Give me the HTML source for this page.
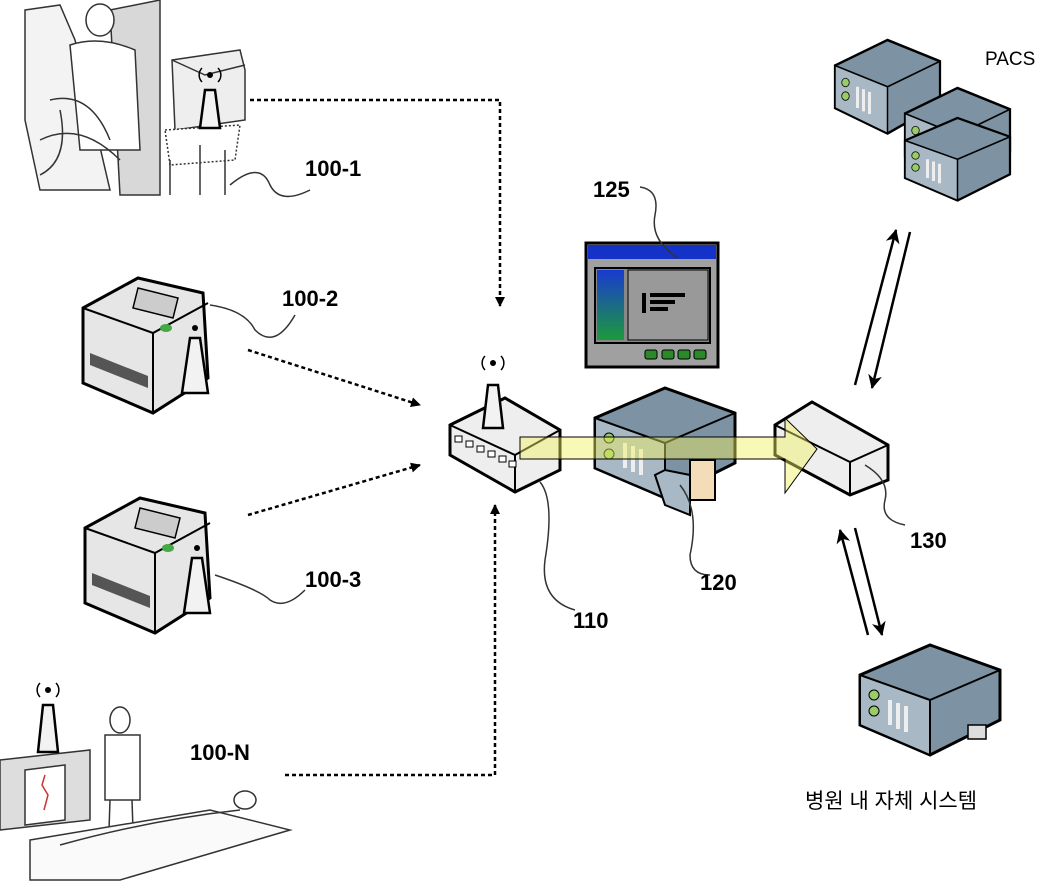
<!DOCTYPE html>
<html><head><meta charset="utf-8"><style>body{margin:0;background:#fff}svg{display:block}</style></head><body>
<svg width="1048" height="896" viewBox="0 0 1048 896" xmlns="http://www.w3.org/2000/svg" font-family="Liberation Sans, sans-serif">
<defs>
<marker id="ah" markerWidth="10" markerHeight="10" refX="9" refY="5" orient="auto" markerUnits="userSpaceOnUse"><path d="M0,0 L10,5 L0,10 Z" fill="#000"/></marker>
<marker id="ah2" markerWidth="14" markerHeight="14" refX="13" refY="7" orient="auto" markerUnits="userSpaceOnUse"><path d="M0,0 L14,7 L0,14 L4,7 Z" fill="#000"/></marker>
<g id="printer">
<path d="M5,40 L60,10 L125,25 L130,110 L75,145 L5,115 Z" fill="#e6e6e6" stroke="#000" stroke-width="3"/>
<path d="M5,40 L75,65 L130,35" fill="none" stroke="#000" stroke-width="2"/>
<path d="M75,65 L75,145" stroke="#000" stroke-width="2"/>
<path d="M12,85 L70,108 L70,120 L12,97 Z" fill="#555"/>
<path d="M60,20 L100,30 L95,50 L55,40 Z" fill="#ccc" stroke="#000" stroke-width="1.5"/>
<ellipse cx="88" cy="60" rx="6" ry="4" fill="#4a4"/>
<path d="M112,70 L122,70 L130,125 L104,125 Z" fill="#f2f2f2" stroke="#000" stroke-width="2.5"/>
<circle cx="117" cy="60" r="3" fill="#000"/>
</g>
<g id="server">
<path d="M0,30 L70,0 L140,25 L140,75 L70,110 L0,80 Z" fill="#7d93a3" stroke="#000" stroke-width="3"/>
<path d="M0,30 L70,55 L70,110 L0,80 Z" fill="#a8b8c4" stroke="#000" stroke-width="2"/>
<path d="M70,55 L140,25" fill="none" stroke="#000" stroke-width="2"/>
<circle cx="14" cy="50" r="5" fill="#9c6" stroke="#000"/><circle cx="14" cy="66" r="5" fill="#9c6" stroke="#000"/>
<path d="M30,55 L30,80 M38,58 L38,84 M46,61 L46,87" stroke="#eee" stroke-width="4"/>
</g>
</defs>

<!-- ECG top-left -->
<g stroke="#333" fill="none" stroke-width="1.5">
<path d="M25,10 L60,5 L75,40 L110,190 L40,190 L25,120 Z" fill="#f3f3f3"/>
<path d="M110,10 L160,0 L160,195 L120,195 Z" fill="#d8d8d8"/>
<ellipse cx="100" cy="20" rx="14" ry="16" fill="#fff"/>
<path d="M70,45 Q100,35 135,50 L140,150 L80,150 Z" fill="#fff"/>
<path d="M40,140 Q80,120 120,160 M50,100 Q90,90 110,140 M60,110 Q70,160 40,175" />
<path d="M172,60 L240,50 L245,70 L245,120 L175,130 Z" fill="#eee"/>
<path d="M172,60 L205,75 L245,65" />
<path d="M165,130 L240,125 L235,160 L170,165 Z" fill="#fff" stroke-dasharray="2 2"/>
<path d="M200,145 L200,195 M225,150 L225,195 M170,160 L170,195"/>
</g>
<path d="M200,128 L205,90 L215,90 L220,128 Z" fill="#f2f2f2" stroke="#000" stroke-width="2.5"/>
<circle cx="210" cy="75" r="3" fill="#000"/>
<path d="M202,68 a10,10 0 0 0 0,14 M218,68 a10,10 0 0 1 0,14" stroke="#000" fill="none" stroke-width="1.5"/>
<path d="M230,185 Q260,160 270,185 Q280,205 310,190" stroke="#333" fill="none" stroke-width="1.5"/>
<text x="305" y="176" font-size="22" font-weight="bold">100-1</text>

<use href="#printer" x="78" y="268"/>
<path d="M210,305 Q245,310 255,330 Q275,350 295,315" stroke="#333" fill="none" stroke-width="1.5"/>
<text x="282" y="306" font-size="22" font-weight="bold">100-2</text>
<use href="#printer" x="80" y="488"/>
<path d="M215,575 Q260,590 270,600 Q285,610 305,590" stroke="#333" fill="none" stroke-width="1.5"/>
<text x="305" y="587" font-size="22" font-weight="bold">100-3</text>

<!-- patient bottom-left -->
<g stroke="#333" fill="none" stroke-width="1.5">
<path d="M0,760 L90,750 L90,820 L0,830 Z" fill="#ddd"/>
<path d="M25,770 L65,765 L65,820 L25,825 Z" fill="#fff"/>
<path d="M45,775 l-3,10 l6,10 l-4,15" stroke="#c33"/>
<ellipse cx="120" cy="720" rx="10" ry="13" fill="#fff"/>
<path d="M105,735 L140,735 L140,800 L105,800 Z" fill="#fff"/>
<path d="M110,800 L108,860 M132,800 L134,860"/>
<path d="M30,840 L210,810 L290,830 L120,880 L30,880 Z" fill="#fafafa"/>
<path d="M60,845 Q150,820 240,810" />
<ellipse cx="245" cy="800" rx="11" ry="9" fill="#fff"/>
</g>
<path d="M38,752 L43,705 L53,705 L58,752 Z" fill="#f2f2f2" stroke="#000" stroke-width="2.5"/>
<circle cx="48" cy="690" r="3" fill="#000"/>
<path d="M40,683 a10,10 0 0 0 0,14 M56,683 a10,10 0 0 1 0,14" stroke="#000" fill="none" stroke-width="1.5"/>
<text x="190" y="760" font-size="22" font-weight="bold">100-N</text>

<!-- dashed arrows -->
<g stroke="#000" stroke-width="2.5" stroke-dasharray="4 3" fill="none">
<path d="M250,100 L500,100 L500,306" marker-end="url(#ah)"/>
<path d="M248,350 L420,405" marker-end="url(#ah)"/>
<path d="M248,515 L420,465" marker-end="url(#ah)"/>
<path d="M285,775 L495,775 L495,505" marker-end="url(#ah)"/>
</g>

<!-- router -->
<path d="M450,425 L505,398 L560,430 L560,470 L515,492 L450,455 Z" fill="#eee" stroke="#000" stroke-width="3"/>
<path d="M450,425 L515,455 L560,430 M515,455 L515,492" fill="none" stroke="#000" stroke-width="2"/>
<g fill="#fff" stroke="#000" stroke-width="1"><rect x="455" y="436" width="7" height="6"/><rect x="466" y="441" width="7" height="6"/><rect x="477" y="446" width="7" height="6"/><rect x="488" y="451" width="7" height="6"/><rect x="499" y="456" width="7" height="6"/><rect x="509" y="461" width="7" height="6"/></g>
<path d="M483,428 L488,385 L498,385 L503,428 Z" fill="#f2f2f2" stroke="#000" stroke-width="2.5"/>
<circle cx="493" cy="363" r="3" fill="#000"/>
<path d="M485,356 a10,10 0 0 0 0,14 M501,356 a10,10 0 0 1 0,14" stroke="#000" fill="none" stroke-width="1.5"/>
<path d="M540,482 Q555,500 545,560 Q540,600 575,610" stroke="#333" fill="none" stroke-width="1.5"/>
<text x="573" y="628" font-size="22" font-weight="bold">110</text>

<!-- monitor 125 -->
<rect x="586" y="243" width="132" height="124" fill="#a0a0a0" stroke="#000" stroke-width="3"/>
<rect x="588" y="245" width="128" height="14" fill="#1432c8"/>
<rect x="595" y="268" width="115" height="75" fill="#888" stroke="#000" stroke-width="2"/>
<defs><linearGradient id="g1" x1="0" y1="0" x2="0" y2="1"><stop offset="0" stop-color="#1a3ad0"/><stop offset="1" stop-color="#1c9a3c"/></linearGradient></defs>
<rect x="597" y="270" width="27" height="70" fill="url(#g1)"/>
<rect x="628" y="270" width="80" height="70" fill="#999" stroke="#000" stroke-width="1"/>
<g fill="#000"><rect x="650" y="293" width="35" height="4"/><rect x="650" y="300" width="25" height="4"/><rect x="650" y="307" width="18" height="4"/><rect x="642" y="293" width="4" height="20"/></g>
<g fill="#2a8a2a" stroke="#000"><rect x="645" y="350" width="12" height="9" rx="2"/><rect x="662" y="350" width="12" height="9" rx="2"/><rect x="678" y="350" width="12" height="9" rx="2"/><rect x="694" y="350" width="12" height="9" rx="2"/></g>
<path d="M678,258 Q650,240 655,215 Q660,190 640,187" stroke="#333" fill="none" stroke-width="1.5"/>
<text x="593" y="197" font-size="22" font-weight="bold">125</text>

<!-- server 120 -->
<use href="#server" x="595" y="388"/>
<path d="M690,460 L715,460 L715,500 L690,500 Z" fill="#f5dcb8" stroke="#000" stroke-width="2"/>
<path d="M655,475 L665,470 L690,475 L690,515 L665,505 Z" fill="#a8b8c4" stroke="#000" stroke-width="2"/>
<path d="M680,485 Q700,510 690,555 Q690,575 710,575" stroke="#333" fill="none" stroke-width="1.5"/>
<text x="700" y="590" font-size="22" font-weight="bold">120</text>

<!-- switch 130 -->
<path d="M775,425 L812,402 L888,445 L888,480 L850,495 L775,455 Z" fill="#eee" stroke="#000" stroke-width="3"/>
<path d="M775,425 L850,462 L888,445 M850,462 L850,495" fill="none" stroke="#000" stroke-width="2"/>
<path d="M865,465 Q890,480 885,500 Q880,520 905,525" stroke="#333" fill="none" stroke-width="1.5"/>
<text x="910" y="548" font-size="22" font-weight="bold">130</text>

<!-- yellow arrow -->
<path d="M520,437 L785,437 L785,418 L817,449 L785,493 L785,459 L520,459 Z" fill="#f0f060" fill-opacity="0.45" stroke="#000" stroke-width="1"/>

<!-- PACS -->
<g transform="translate(835,40) scale(0.75,0.85)"><use href="#server"/></g>
<g transform="translate(905,88) scale(0.75,0.85)"><use href="#server"/></g>
<g transform="translate(905,118) scale(0.75,0.75)"><use href="#server"/></g>
<text x="985" y="65" font-size="19">PACS</text>
<path d="M855,385 L896,230" stroke="#000" stroke-width="2.5" marker-end="url(#ah2)"/>
<path d="M910,232 L872,388" stroke="#000" stroke-width="2.5" marker-end="url(#ah2)"/>
<path d="M868,635 L840,530" stroke="#000" stroke-width="2.5" marker-end="url(#ah2)"/>
<path d="M855,528 L882,635" stroke="#000" stroke-width="2.5" marker-end="url(#ah2)"/>

<!-- hospital system -->
<use href="#server" x="860" y="645"/>
<rect x="968" y="725" width="18" height="14" fill="#ddd" stroke="#000" stroke-width="1.5"/>
<text x="805" y="808" font-size="21" font-family="Liberation Sans, Noto Sans CJK KR, sans-serif">병원 내 자체 시스템</text>
</svg>
</body></html>
